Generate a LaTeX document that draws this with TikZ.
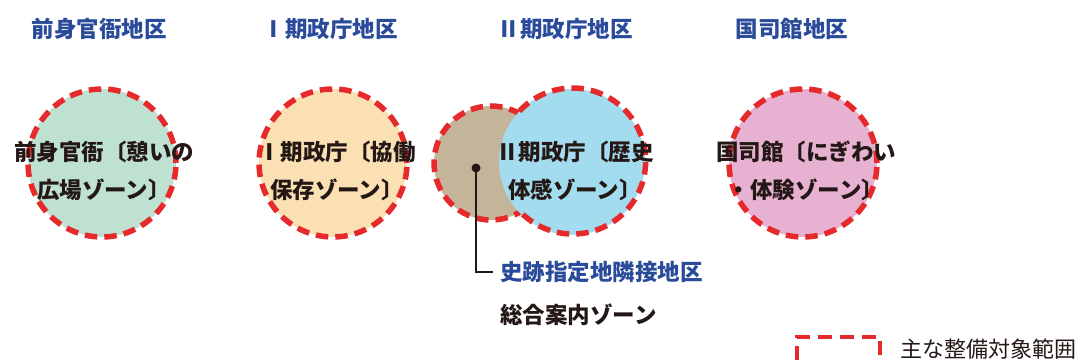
\documentclass[tikz,border=0pt]{standalone}
\usepackage{fontspec}
\setmainfont{Noto Sans CJK JP}
\usepackage{tikz}
\usetikzlibrary
  {
    positioning, % place nodes relative to other nodes
    calc,
  }

\definecolor{zonered}{HTML}{E62A2B}
\definecolor{areablue}{HTML}{2A4A9A}
\definecolor{inkdark}{HTML}{231815}
\definecolor{fillgreen}{HTML}{BFE1D1}
\definecolor{fillpeach}{HTML}{FBE0B3}
\definecolor{fillblue}{HTML}{A3DBEF}
\definecolor{fillbrown}{HTML}{C4B499}
\definecolor{fillpink}{HTML}{E7B1D1}

\tikzset
  {
    zoneline/.style = {draw=zonered, line width=5.5pt, dash pattern=on 12.5pt off 7pt},
    zone/.style     = {circle, inner sep=0, minimum size=148pt, zoneline},
    areatitle/.style = {font=\fontsize{22.5}{26}\selectfont\bfseries, text=areablue},
    zonetext/.style  = {font=\fontsize{22.5}{38}\selectfont\bfseries, text=inkdark,
                        align=center, inner sep=0},
  }

\begin{document}
\begin{tikzpicture}[x=1pt,y=1pt]
    \useasboundingbox (0,0) rectangle (1084,362);

    % district titles
    \node (t1) [areatitle] at (99,333)  {前身官衙地区};
    \node (t2) [areatitle] at (330,333) {Ⅰ期政庁地区};
    \node (t3) [areatitle] at (565,333) {Ⅱ期政庁地区};
    \node (t4) [areatitle] at (792,333) {国司館地区};

    % zones
    \node (z1) [zone, fill=fillgreen] at (102,199) {};
    \node (z2) [zone, fill=fillpeach] at (333,199) {};
    \node (z3b) [zone, fill=fillbrown, minimum size=114pt] at (491,199) {};
    \node (z3) [circle, inner sep=0, minimum size=146pt, fill=fillblue] at (572,200) {};
    \draw [zoneline] (z3.136.9) arc[start angle=136.9, end angle=-136.9, radius=73];
    \node (z4) [zone, fill=fillpink] at (803,199) {};

    % zone names
    \node (n1) [zonetext] at ($(z1)+(2,-8)$) {前身官衙〔憩いの\\広場ゾーン〕};
    \node (n2) [zonetext] at ($(z2)+(4,-8)$) {Ⅰ期政庁〔協働\\保存ゾーン〕};
    \node (n3) [zonetext] at ($(z3)+(3,-9)$) {Ⅱ期政庁〔歴史\\体感ゾーン〕};
    \node (n4) [zonetext] at ($(z4)+(3,-8)$) {国司館〔にぎわい\\・体験ゾーン〕};

    % leader to the adjacent area
    \node (hub) [circle, fill=inkdark, inner sep=0, minimum size=9pt] at (476,194) {};
    \node (adj) [areatitle, anchor=west, inner sep=0] at (500,90) {史跡指定地隣接地区};
    \node (guide) [zonetext, anchor=west] at (500,47) {総合案内ゾーン};
    \draw [inkdark, line width=2.6pt] (hub.center) |- ([xshift=-7pt]adj.west);

    % legend
    \coordinate (keyA) at (797,25);
    \coordinate (keyB) at (880,-20);
    \draw [draw=zonered, line width=4.5pt, dash pattern=on 14pt off 8pt] (keyA |- keyB) -- (keyA) -- (keyB |- keyA) -- (keyB);
    \node (key) [font=\fontsize{22}{24}\selectfont, text=inkdark, anchor=west, inner sep=0] at (900,13) {主な整備対象範囲};
\end{tikzpicture}
\end{document}
